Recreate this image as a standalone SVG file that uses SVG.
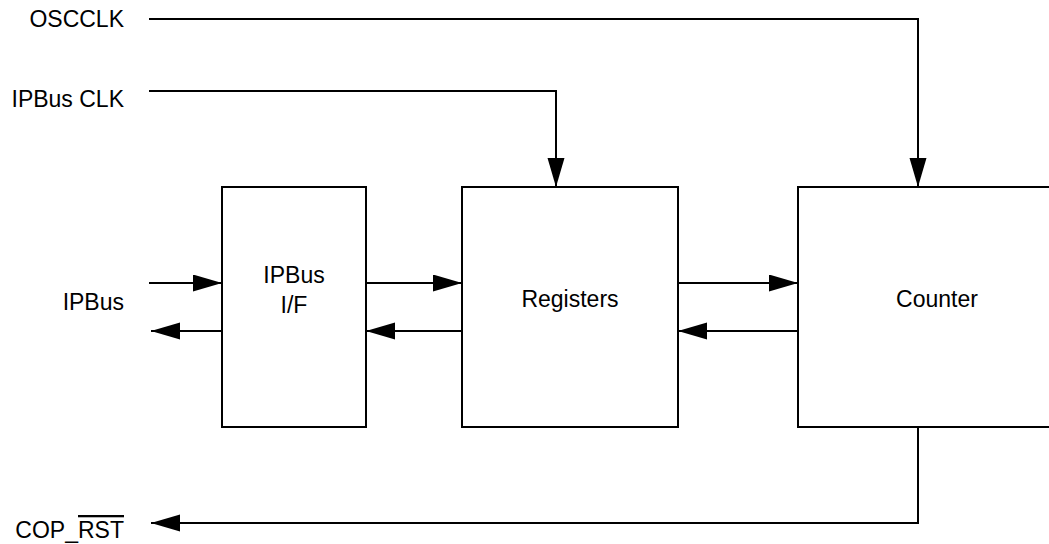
<svg xmlns="http://www.w3.org/2000/svg" width="1049" height="544" viewBox="0 0 1049 544">
<style>
.box{fill:#fff;stroke:#000;stroke-width:2}
.wire{fill:none;stroke:#000;stroke-width:2;stroke-linejoin:miter}
.arr{marker-end:url(#ah)}
text{font-family:"Liberation Sans",Arial,sans-serif;font-size:23px;fill:#000}
.c{text-anchor:middle}
.r{text-anchor:end}
</style>
<defs>
<marker id="ah" markerUnits="userSpaceOnUse" markerWidth="30" markerHeight="18" refX="29" refY="8.5" orient="auto">
<path d="M0,0 L29,8.5 L0,17 z" fill="#000"/>
</marker>
</defs>
<rect width="1049" height="544" fill="#fff"/>
<g id="connectors">
<path class="wire arr" d="M149,19 H918 V187"/>
<path class="wire arr" d="M149,91 H556 V187"/>
<path class="wire arr" d="M149,283 H222"/>
<path class="wire arr" d="M222,331 H151"/>
<path class="wire arr" d="M366,283 H462"/>
<path class="wire arr" d="M462,331 H366"/>
<path class="wire arr" d="M678,283 H798"/>
<path class="wire arr" d="M798,331 H678"/>
<path class="wire arr" d="M918,427 V523 H151"/>
</g>
<g id="ipbus-if">
<rect class="box" x="222" y="187" width="144" height="240"/>
<text class="c" x="294" y="283">IPBus</text>
<text class="c" x="294" y="313">I/F</text>
</g>
<g id="registers">
<rect class="box" x="462" y="187" width="216" height="240"/>
<text class="c" x="570" y="307">Registers</text>
</g>
<g id="counter">
<rect class="box" x="798" y="187" width="278" height="240"/>
<text class="c" x="937" y="307">Counter</text>
</g>
<g id="labels">
<text class="r" x="124" y="27">OSCCLK</text>
<text class="r" x="124" y="107">IPBus CLK</text>
<text class="r" x="124" y="310">IPBus</text>
<text class="r" x="124" y="538">COP_<tspan text-decoration="overline">RST</tspan></text>
</g>
</svg>
